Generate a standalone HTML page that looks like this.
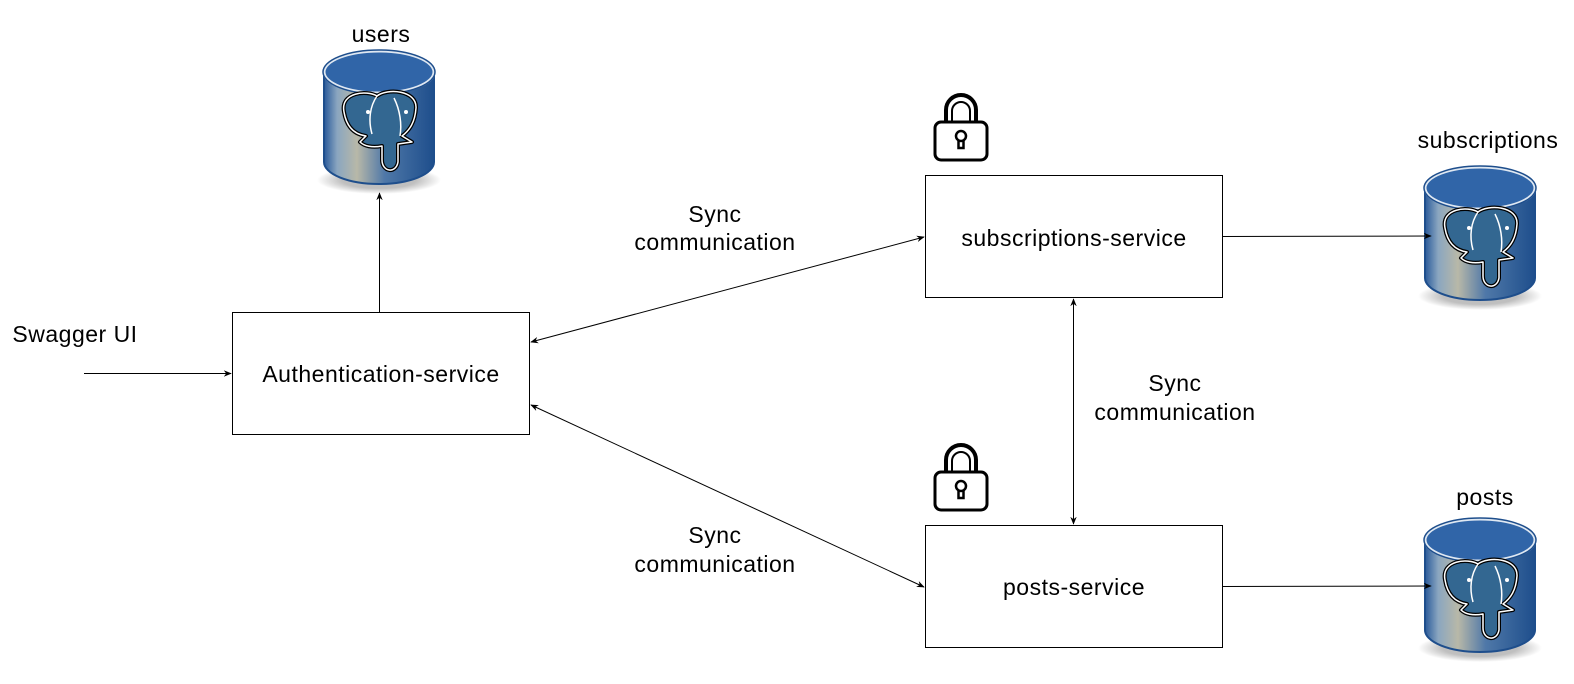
<!DOCTYPE html>
<html><head><meta charset="utf-8"><style>
html,body{margin:0;padding:0;background:#fff;}
svg{display:block;font-family:"Liberation Sans",Arial,sans-serif;}
</style></head><body>
<svg width="1574" height="684" viewBox="0 0 1574 684" xmlns="http://www.w3.org/2000/svg">
<defs>
<marker id="a" viewBox="0 0 10 10" refX="9" refY="5" markerWidth="8" markerHeight="8" orient="auto-start-reverse" markerUnits="userSpaceOnUse"><path d="M0,1 L10,5 L0,9 L3,5 z" fill="#000"/></marker>
<linearGradient id="body" x1="0" x2="1" y1="0" y2="0">
<stop offset="0" stop-color="#2a5a9a"/><stop offset="0.12" stop-color="#8aa6c0"/><stop offset="0.3" stop-color="#b8b8a8"/><stop offset="0.55" stop-color="#4f78a8"/><stop offset="1" stop-color="#1e4e8c"/></linearGradient>
<radialGradient id="sh" cx="0.5" cy="0.5" r="0.5"><stop offset="0.6" stop-color="#000" stop-opacity="0.25"/><stop offset="1" stop-color="#000" stop-opacity="0"/></radialGradient>
<g id="db">
<ellipse cx="57" cy="130" rx="62" ry="14" fill="url(#sh)"/>
<path d="M2,22 L2,112 A55,22 0 0 0 112,112 L112,22 Z" fill="url(#body)" stroke="#1e4e8c" stroke-width="2"/>
<ellipse cx="57" cy="22" rx="55" ry="21" fill="#3065a8" stroke="#dfe8f2" stroke-width="3"/>
<ellipse cx="57" cy="22" rx="56" ry="22" fill="none" stroke="#1e4e8c" stroke-width="1.5"/>
<path d="M22,62 C18,42 45,40 55,46 C65,38 95,40 94,58 C93,72 88,80 80,86 L90,92 L76,94 L76,112 C74,124 60,122 60,110 L60,96 C50,98 42,96 38,92 L44,86 C30,84 24,74 22,62 Z" fill="#336791" stroke="#000" stroke-width="4" stroke-linejoin="round"/>
<path d="M22,62 C18,42 45,40 55,46 C65,38 95,40 94,58 C93,72 88,80 80,86 L90,92 L76,94 L76,112 C74,124 60,122 60,110 L60,96 C50,98 42,96 38,92 L44,86 C30,84 24,74 22,62 Z" fill="none" stroke="#fff" stroke-width="1.5" stroke-linejoin="round"/>
<path d="M55,46 C48,56 46,70 50,84 M72,48 C78,60 80,74 78,86" fill="none" stroke="#fff" stroke-width="1.5"/>
<circle cx="46" cy="62" r="2" fill="#fff"/><circle cx="84" cy="62" r="2" fill="#fff"/>
</g>
<g id="lock">
<path d="M13,30 L13,18 A15,15 0 0 1 43,18 L43,30" fill="none" stroke="#000" stroke-width="4"/>
<path d="M19,30 L19,19 A9,9 0 0 1 37,19 L37,30" fill="none" stroke="#000" stroke-width="2"/>
<rect x="2" y="30" width="52" height="38" rx="6" fill="#fff" stroke="#000" stroke-width="3"/>
<circle cx="28" cy="44" r="5" fill="none" stroke="#000" stroke-width="2.5"/>
<path d="M25.5,48 L25.5,56 L30.5,56 L30.5,48" fill="none" stroke="#000" stroke-width="2.5"/>
</g>
</defs>
<g fill="#fff" stroke="#000" stroke-width="1">
<rect x="232.5" y="312.5" width="297" height="122"/>
<rect x="925.5" y="175.5" width="297" height="122"/>
<rect x="925.5" y="525.5" width="297" height="122"/>
</g>
<use href="#db" x="322" y="50"/>
<use href="#db" x="1423" y="166"/>
<use href="#db" x="1423" y="518"/>
<use href="#lock" x="933" y="92"/>
<use href="#lock" x="933" y="442"/>
<g stroke="#000" stroke-width="1" fill="none">
<line x1="84" y1="373.5" x2="231" y2="373.5" marker-end="url(#a)"/>
<line x1="379.5" y1="312" x2="379.5" y2="193" marker-end="url(#a)"/>
<line x1="531" y1="342" x2="924" y2="237" marker-start="url(#a)" marker-end="url(#a)"/>
<line x1="531" y1="405" x2="924" y2="587" marker-start="url(#a)" marker-end="url(#a)"/>
<line x1="1073.5" y1="299" x2="1073.5" y2="524" marker-start="url(#a)" marker-end="url(#a)"/>
<line x1="1223" y1="236.5" x2="1431" y2="236" marker-end="url(#a)"/>
<line x1="1223" y1="586.5" x2="1431" y2="586" marker-end="url(#a)"/>
</g>
<g font-size="23" letter-spacing="0.5" fill="#000" text-anchor="middle">
<text x="381" y="42">users</text>
<text x="1488" y="148">subscriptions</text>
<text x="1485" y="505">posts</text>
<text x="75" y="342">Swagger UI</text>
<text x="381" y="382">Authentication-service</text>
<text x="1074" y="246">subscriptions-service</text>
<text x="1074" y="595">posts-service</text>
<text x="715" y="222">Sync</text>
<text x="715" y="250">communication</text>
<text x="1175" y="391">Sync</text>
<text x="1175" y="420">communication</text>
<text x="715" y="543">Sync</text>
<text x="715" y="572">communication</text>
</g>
</svg>
</body></html>
